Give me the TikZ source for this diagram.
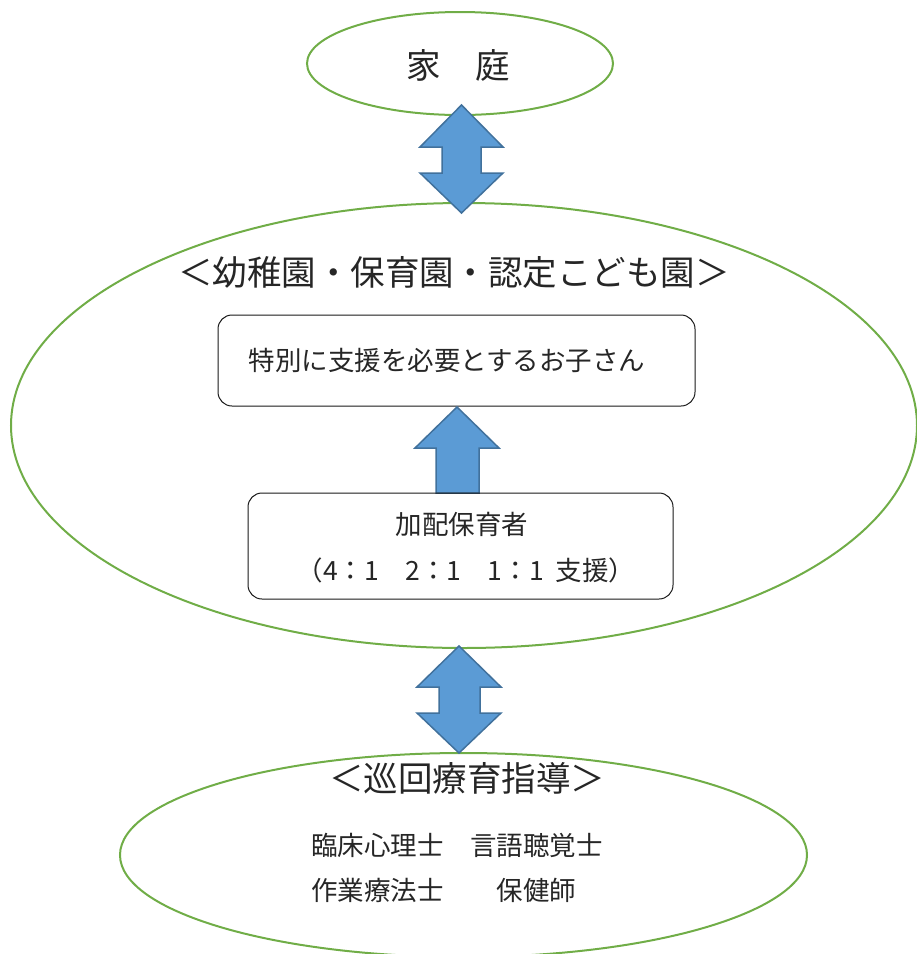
\documentclass[tikz,border=0pt]{standalone}
\usepackage{fontspec}
\setmainfont{Noto Sans CJK JP}
\usetikzlibrary{shapes.geometric}
\definecolor{egreen}{HTML}{70AD47}
\definecolor{afill}{HTML}{5B9BD5}
\definecolor{aline}{HTML}{41719C}
\definecolor{txt}{HTML}{262626}
\begin{document}
\begin{tikzpicture}[x=1pt,y=-1pt,
  oval/.style={ellipse, draw=egreen, line width=2pt, inner sep=0pt},
  box/.style={draw=black!90, line width=1pt, rounded corners=14pt, inner sep=0pt},
  blockarrow/.style={fill=afill, draw=aline, line width=1.5pt, line join=miter},
  lbl/.style={inner sep=0pt, text=txt},
  big/.style={lbl, font=\fontsize{34.5}{40}\selectfont},
  mid/.style={lbl, font=\fontsize{26.5}{32}\selectfont}]
\useasboundingbox (0,0) rectangle (917,954);

% ovals
\node[oval, minimum width=306pt, minimum height=103pt] (home) at (460,63.5) {};
\node[oval, minimum width=906pt, minimum height=445pt] (school) at (464,425.5) {};
\node[oval, minimum width=687pt, minimum height=204pt] (visit) at (463.5,855) {};

% boxes
\node[box, minimum width=477pt, minimum height=91pt] (child) at (456.5,360.5) {};

% arrows
\draw[blockarrow] (461.5,105) -- (503,147) -- (481,147) -- (481,173) -- (503,173)
  -- (461.5,213) -- (420,173) -- (442,173) -- (442,147) -- (420,147) -- cycle;
\draw[blockarrow] (457,407) -- (499,448) -- (479,448) -- (479,493) -- (436,493)
  -- (436,448) -- (415,448) -- cycle;
\draw[blockarrow] (459,646) -- (501,687) -- (480,687) -- (480,713) -- (501,713)
  -- (459,753) -- (417,713) -- (439,713) -- (439,687) -- (417,687) -- cycle;

\node[box, minimum width=425pt, minimum height=106pt] (staff) at (460.5,546) {};

% texts
\node[big] (homet) at (458,65) {家　庭};
\node[big] (schoolt) at (454,272) {＜幼稚園・保育園・認定こども園＞};
\node[mid] (childt) at (447,360) {特別に支援を必要とするお子さん};
\node[mid] (staff1) at (462,524) {加配保育者};
\node[mid] (staff2) at (466,570) {（4：1　2：1　1：1\hspace{0.45em}支援）};
\node[big] (visitt) at (467,778) {＜巡回療育指導＞};
\node[mid, anchor=west] (prof1) at (311,845) {臨床心理士　言語聴覚士};
\node[mid, anchor=west] (prof2) at (311,890) {作業療法士　　保健師};
\end{tikzpicture}
\end{document}
